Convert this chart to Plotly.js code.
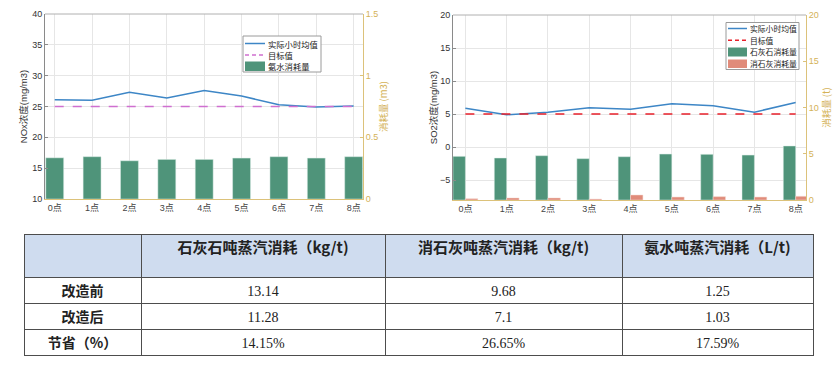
<!DOCTYPE html>
<html>
<head>
<meta charset="utf-8">
<script src="https://cdn.plot.ly/plotly-3.0.1.min.js"></script>
<style>html,body{margin:0;padding:0;background:#fff;}#chart{width:838px;height:372px;}</style>
</head>
<body>
<div id="chart"></div>
<script>
// ---- data ----
const hours = ['0点','1点','2点','3点','4点','5点','6点','7点','8点'];
const noxActual = [26.1, 26.0, 27.3, 26.4, 27.6, 26.7, 25.3, 24.9, 25.1];
const noxTarget = [25, 25, 25, 25, 25, 25, 25, 25, 25];
const ammoniaUse = [0.334, 0.343, 0.310, 0.321, 0.321, 0.332, 0.343, 0.332, 0.343];
const so2Actual = [5.9, 4.9, 5.3, 5.95, 5.75, 6.55, 6.25, 5.3, 6.75];
const so2Target = [5, 5, 5, 5, 5, 5, 5, 5, 5];
const limestoneUse = [4.72, 4.54, 4.79, 4.47, 4.68, 4.97, 4.94, 4.86, 5.84];
const limeUse = [0.14, 0.22, 0.22, 0.10, 0.54, 0.32, 0.36, 0.32, 0.40];

const legend1Names = ['实际小时均值', '目标值', '氨水消耗量'];
const legend2Names = ['实际小时均值', '目标值', '石灰石消耗量', '消石灰消耗量'];

const tableHeader = ['', '石灰石吨蒸汽消耗（kg/t)', '消石灰吨蒸汽消耗（kg/t)', '氨水吨蒸汽消耗（L/t)'];
const rowLabels = ['改造前', '改造后', '节省（%）'];
const limestoneSteam = ['13.14', '11.28', '14.15%'];
const limeSteam = ['9.68', '7.1', '26.65%'];
const ammoniaSteam = ['1.25', '1.03', '17.59%'];

const idx = hours.map((_, i) => i);
const W = 838, H = 372;
const px = v => v / W, py = v => 1 - v / H;

const gold = '#dcc27a', goldText = '#d4b257';
const gridC = '#e6e6e6', axisC = '#8a8a8a';
const blue = '#3d86c6', magenta = '#cf6fd0', red = '#e8212b', green = '#4f947a', salmon = '#e08b7a';
const sansF = 'Liberation Sans, Arial, Noto Sans CJK SC, sans-serif';
const cjkF = 'Noto Sans CJK SC, sans-serif';

const traces = [
  {type:'bar', x: idx, y: ammoniaUse, xaxis:'x', yaxis:'y2', name: legend1Names[2],
   width:0.48, marker:{color:green, line:{color:'#dfeee8', width:0.5}}},
  {type:'scatter', mode:'lines', x: idx, y: noxActual, xaxis:'x', yaxis:'y', name: legend1Names[0],
   line:{color:blue, width:1.5}},
  {type:'scatter', mode:'lines', x: idx, y: noxTarget, xaxis:'x', yaxis:'y', name: legend1Names[1],
   line:{color:magenta, width:1.5, dash:'dash'}},
  {type:'bar', x: idx, y: limestoneUse, xaxis:'x2', yaxis:'y4', name: legend2Names[2],
   width:0.3, offset:-0.3, marker:{color:green, line:{color:'#dfeee8', width:0.5}}},
  {type:'bar', x: idx, y: limeUse, xaxis:'x2', yaxis:'y4', name: legend2Names[3],
   width:0.3, offset:0, marker:{color:salmon, line:{color:'#f5d8d0', width:0.5}}},
  {type:'scatter', mode:'lines', x: idx, y: so2Actual, xaxis:'x2', yaxis:'y3', name: legend2Names[0],
   line:{color:blue, width:1.5}},
  {type:'scatter', mode:'lines', x: idx, y: so2Target, xaxis:'x2', yaxis:'y3', name: legend2Names[1],
   line:{color:red, width:1.5, dash:'dash'}},
  {type:'table',
   domain:{x:[px(24), px(813)], y:[py(372), py(234)]},
   columnwidth:[117, 244, 237, 191],
   header:{values: tableHeader, height:43, align:'center',
           fill:{color:'#cfdcef'}, line:{color:'#4d4d4d', width:1},
           font:{family:cjkF, size:15, color:'#222', weight:'bold'}},
   cells:{values:[rowLabels, limestoneSteam, limeSteam, ammoniaSteam], height:26, align:'center',
          fill:{color:'#ffffff'}, line:{color:'#4d4d4d', width:1},
          font:{family:['Noto Sans CJK SC, serif','Liberation Serif, serif','Liberation Serif, serif','Liberation Serif, serif'],
                size:14, color:'#222', weight:['bold','normal','normal','normal']}}}
];

const xCommon = {tickmode:'array', tickvals: idx, ticktext: hours, showgrid:true, gridcolor:gridC,
  showline:true, linecolor:gold, ticks:'', zeroline:false,
  tickfont:{family:sansF, size:9, color:'#444'}};
const yLeft = {showgrid:true, gridcolor:gridC, showline:true, linecolor:axisC, ticks:'inside', ticklen:3,
  tickcolor:axisC, zeroline:false, tickfont:{family:sansF, size:9, color:'#333'}};
const yRight = {side:'right', showgrid:false, showline:true, linecolor:gold, ticks:'inside',
  ticklen:3, tickcolor:gold, zeroline:false, tickfont:{family:sansF, size:9, color:goldText}};

// ---- manual legends (boxes, samples, labels) ----
const shapes = [
  {type:'line', xref:'x domain', yref:'y domain', x0:0, x1:1, y0:1, y1:1, line:{color:'#b0b0b0', width:1}},
  {type:'line', xref:'x2 domain', yref:'y3 domain', x0:0, x1:1, y0:1, y1:1, line:{color:'#b0b0b0', width:1}}
];
const annotations = [];
function rectPx(x0, y0, x1, y1, fill, lineColor) {
  shapes.push({type:'rect', xref:'paper', yref:'paper', x0:px(x0), x1:px(x1), y0:py(y1), y1:py(y0),
    fillcolor:fill, line:{color:lineColor || fill, width:lineColor ? 1 : 0}, layer:'above'});
}
function linePx(x0, x1, y, color, dash) {
  shapes.push({type:'line', xref:'paper', yref:'paper', x0:px(x0), x1:px(x1), y0:py(y), y1:py(y),
    line:{color:color, width:1.5, dash:dash || 'solid'}, layer:'above'});
}
function textPx(x, y, t, size) {
  annotations.push({xref:'paper', yref:'paper', x:px(x), y:py(y), text:t, showarrow:false,
    xanchor:'left', yanchor:'middle', font:{family:cjkF, size:size, color:'#222'}, borderpad:0});
}
// legend 1
rectPx(243, 36, 321, 72, '#ffffff', '#9a9a9a');
linePx(245, 265, 43.5, blue);
linePx(245, 265, 55, magenta, '4px,3px');
rectPx(245, 61.5, 265, 71, green);
textPx(267, 43.5, legend1Names[0], 8.3);
textPx(267, 55, legend1Names[1], 8.3);
textPx(267, 66.5, legend1Names[2], 8.3);
// legend 2
rectPx(726, 22.5, 799, 69.5, '#ffffff', '#9a9a9a');
linePx(728, 747, 28.5, blue);
linePx(728, 747, 40.2, red, '4px,3px');
rectPx(728, 47.5, 747, 56.5, green);
rectPx(728, 59.5, 747, 68, salmon);
textPx(749, 28.5, legend2Names[0], 7.8);
textPx(749, 40.2, legend2Names[1], 7.8);
textPx(749, 52, legend2Names[2], 7.8);
textPx(749, 63.7, legend2Names[3], 7.8);

const layout = {
  width:W, height:H, margin:{l:0, r:0, t:0, b:0},
  paper_bgcolor:'#ffffff', plot_bgcolor:'#ffffff',
  barmode:'overlay', showlegend:false,
  xaxis: Object.assign({}, xCommon, {domain:[px(45), px(363)], range:[-0.26, 8.25], anchor:'y'}),
  yaxis: Object.assign({}, yLeft, {domain:[py(199), py(14)], range:[10, 40], dtick:5, anchor:'x',
    title:{text:'NOx浓度(mg/m3)', standoff:2, font:{family:sansF, size:9.5, color:'#333'}}}),
  yaxis2: Object.assign({}, yRight, {overlaying:'y', anchor:'x', range:[0, 1.5], dtick:0.5,
    title:{text:'消耗量 (m3)', standoff:3, font:{family:cjkF, size:9.5, color:goldText}}}),
  xaxis2: Object.assign({}, xCommon, {domain:[px(453), px(806)], range:[-0.3, 8.25], anchor:'y3'}),
  yaxis3: Object.assign({}, yLeft, {domain:[py(200), py(15)], range:[-8, 20], tickvals:[-5,0,5,10,15,20], anchor:'x2',
    title:{text:'SO2浓度(mg/m3)', standoff:0, font:{family:sansF, size:9.5, color:'#333'}}}),
  yaxis4: Object.assign({}, yRight, {overlaying:'y3', anchor:'x2', range:[0, 20], dtick:5,
    title:{text:'消耗量 (t)', standoff:3, font:{family:cjkF, size:9.5, color:goldText}}}),
  shapes: shapes,
  annotations: annotations
};

Plotly.newPlot('chart', traces, layout, {displayModeBar:false, staticPlot:true});
</script>
</body>
</html>
